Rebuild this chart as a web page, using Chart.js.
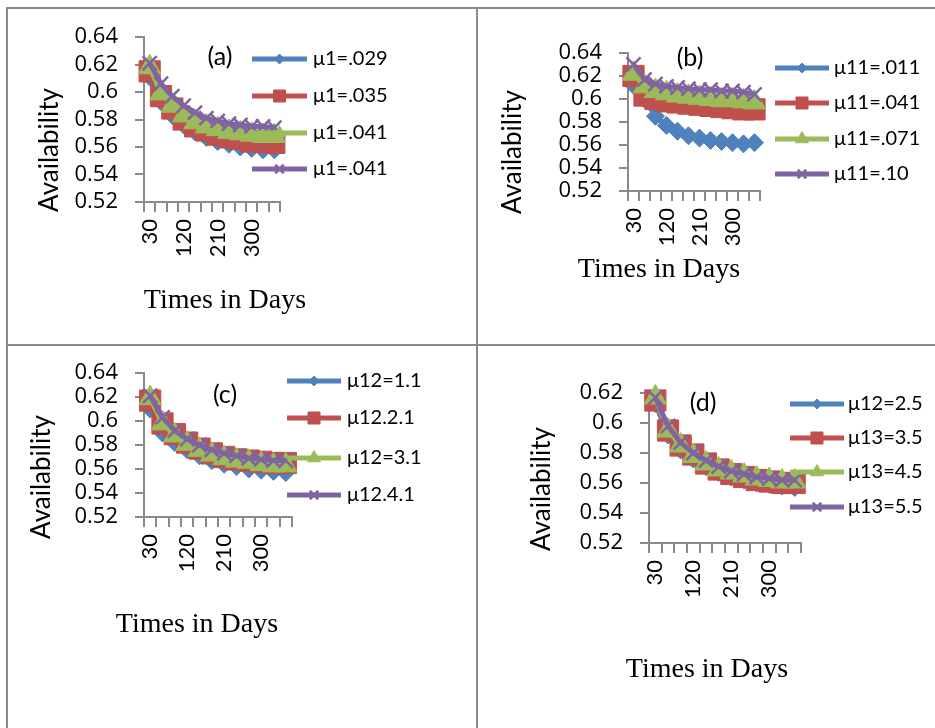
<!DOCTYPE html>
<html>
<head>
<meta charset="utf-8">
<script src="https://cdn.jsdelivr.net/npm/chart.js@4.4.1/dist/chart.umd.min.js"></script>
<style>
  html, body { margin: 0; padding: 0; background: #fff; }
  #page { position: relative; width: 935px; height: 728px; overflow: hidden; }
  canvas { position: absolute; }
  .rule { position: absolute; background: #8a8a8a; }
</style>
</head>
<body>
<div id="page">
  <canvas id="chart-a" width="477" height="345" style="left:0;top:0"></canvas>
  <canvas id="chart-b" width="458" height="345" style="left:477px;top:0"></canvas>
  <canvas id="chart-c" width="477" height="383" style="left:0;top:345px"></canvas>
  <canvas id="chart-d" width="458" height="383" style="left:477px;top:345px"></canvas>

  <div class="rule" style="left:6px;top:7px;width:929px;height:2px"></div>
  <div class="rule" style="left:6px;top:7px;width:2px;height:721px"></div>
  <div class="rule" style="left:476px;top:7px;width:2px;height:721px"></div>
  <div class="rule" style="left:6px;top:344px;width:929px;height:2px"></div>
</div>

<script>
// x categories (days) and the ones that get a label
const days = [30, 60, 90, 120, 150, 180, 210, 240, 270, 300, 330, 360];
const labelledDays = [30, 120, 210, 300];

// (a)
const aMu1_029 = [0.611, 0.593, 0.583, 0.576, 0.571, 0.567, 0.564, 0.562, 0.560, 0.559, 0.558, 0.558];
const aMu1_035 = [0.615, 0.597, 0.588, 0.580, 0.575, 0.572, 0.569, 0.567, 0.566, 0.564, 0.564, 0.563];
const aMu1_041 = [0.618, 0.599, 0.590, 0.583, 0.578, 0.575, 0.573, 0.571, 0.570, 0.569, 0.568, 0.568];
const aMu1_041b = [0.621, 0.606, 0.597, 0.590, 0.585, 0.581, 0.579, 0.577, 0.576, 0.575, 0.575, 0.574];
const legendA = ['\u03bc1=.029', '\u03bc1=.035', '\u03bc1=.041', '\u03bc1=.041'];

// (b)
const bMu11_011 = [0.612, 0.600, 0.585, 0.577, 0.572, 0.568, 0.566, 0.564, 0.563, 0.562, 0.561, 0.562];
const bMu11_041 = [0.620, 0.603, 0.600, 0.598, 0.597, 0.596, 0.595, 0.594, 0.593, 0.592, 0.591, 0.591];
const bMu11_071 = [0.622, 0.611, 0.607, 0.605, 0.603, 0.602, 0.601, 0.600, 0.599, 0.599, 0.598, 0.597];
const bMu11_10 = [0.630, 0.617, 0.613, 0.611, 0.610, 0.609, 0.608, 0.608, 0.607, 0.607, 0.606, 0.604];
const legendB = ['\u03bc11=.011', '\u03bc11=.041', '\u03bc11=.071', '\u03bc11=.10'];

// (c)
const cMu12_1_1 = [0.610, 0.590, 0.582, 0.576, 0.571, 0.567, 0.564, 0.562, 0.560, 0.559, 0.558, 0.557];
const cMu12_2_1 = [0.617, 0.598, 0.589, 0.582, 0.577, 0.573, 0.570, 0.568, 0.567, 0.566, 0.565, 0.565];
const cMu12_3_1 = [0.619, 0.598, 0.588, 0.581, 0.576, 0.572, 0.569, 0.567, 0.566, 0.564, 0.563, 0.563];
const cMu12_4_1 = [0.621, 0.603, 0.592, 0.585, 0.580, 0.576, 0.573, 0.571, 0.569, 0.568, 0.567, 0.567];
const legendC = ['\u03bc12=1.1', '\u03bc12.2.1', '\u03bc12=3.1', '\u03bc12.4.1'];

// (d)
const dMu12_2_5 = [0.613, 0.592, 0.582, 0.576, 0.571, 0.567, 0.564, 0.562, 0.560, 0.559, 0.558, 0.557];
const dMu13_3_5 = [0.615, 0.595, 0.585, 0.579, 0.573, 0.569, 0.566, 0.564, 0.562, 0.561, 0.560, 0.560];
const dMu13_4_5 = [0.617, 0.595, 0.585, 0.578, 0.573, 0.569, 0.567, 0.565, 0.563, 0.562, 0.561, 0.561];
const dMu13_5_5 = [0.617, 0.598, 0.587, 0.580, 0.575, 0.571, 0.568, 0.566, 0.564, 0.563, 0.562, 0.562];
const legendD = ['\u03bc12=2.5', '\u03bc13=3.5', '\u03bc13=4.5', '\u03bc13=5.5'];

Chart.defaults.font.family = 'Lato';
Chart.defaults.color = '#000';

const AXIS_GRAY = '#8a8a8a';

// excel 2007 palette + marker per series position
const seriesStyles = [
  { color: '#4f81bd', pointStyle: 'rectRot', radius: 9, legendRadius: 5, pointBorderWidth: 1 },
  { color: '#c0504d', pointStyle: 'rect', radius: 15, legendRadius: 8.5, pointBorderWidth: 1 },
  { color: '#9bbb59', pointStyle: 'triangle', radius: 13, legendRadius: 7.5, pointBorderWidth: 1 },
  { color: '#8064a2', pointStyle: 'crossRot', radius: 10, legendRadius: 6, pointBorderWidth: 2.5 }
];

// draws panel letter, axis titles and the legend (line + marker)
const panelDecor = {
  id: 'panelDecor',
  afterDraw(chart, args, opts) {
    const ctx = chart.ctx;
    ctx.save();
    ctx.fillStyle = '#000';
    ctx.textAlign = 'center';
    ctx.textBaseline = 'middle';

    ctx.font = '25px Lato';
    ctx.fillText(opts.letter, opts.letterPos[0], opts.letterPos[1]);

    ctx.save();
    ctx.translate(opts.yTitlePos[0], opts.yTitlePos[1]);
    ctx.rotate(-Math.PI / 2);
    ctx.font = '26px Lato';
    ctx.fillText('Availability', 0, 0);
    ctx.restore();

    ctx.font = '28px "Liberation Serif"';
    ctx.fillText('Times in Days', opts.xTitlePos[0], opts.xTitlePos[1]);

    const lg = opts.legend;
    chart.data.datasets.forEach((ds, i) => {
      const st = seriesStyles[i];
      const y = lg.y[i];
      ctx.strokeStyle = st.color;
      ctx.fillStyle = st.color;
      ctx.lineWidth = 5;
      ctx.beginPath();
      ctx.moveTo(lg.x1, y);
      ctx.lineTo(lg.x2, y);
      ctx.stroke();
      ctx.lineWidth = st.pointBorderWidth;
      Chart.helpers.drawPoint(ctx, {
        pointStyle: st.pointStyle,
        radius: st.legendRadius,
        rotation: 0,
        borderWidth: st.pointBorderWidth
      }, (lg.x1 + lg.x2) / 2, y);

      ctx.fillStyle = '#000';
      ctx.textAlign = 'left';
      ctx.font = '20px Lato';
      ctx.fillText(ds.label, lg.textX, y);
    });
    ctx.restore();
  }
};

function makePanel(id, series, labels, yMax, box, decor) {
  const datasets = series.map((values, i) => {
    const st = seriesStyles[i];
    return {
      label: labels[i],
      data: values,
      borderColor: st.color,
      backgroundColor: st.color,
      borderWidth: 5,
      tension: 0,
      pointStyle: st.pointStyle,
      pointRadius: st.radius,
      pointBorderWidth: st.pointBorderWidth,
      pointBackgroundColor: st.color,
      pointBorderColor: st.color,
      order: series.length - 1 - i,
      clip: false
    };
  });

  return new Chart(document.getElementById(id), {
    type: 'line',
    data: { labels: days, datasets: datasets },
    options: {
      responsive: false,
      animation: false,
      layout: {
        padding: { left: 0, top: box.top, right: box.right, bottom: 0 }
      },
      plugins: {
        legend: { display: false },
        tooltip: { enabled: false },
        panelDecor: decor
      },
      scales: {
        x: {
          type: 'category',
          offset: true,
          afterFit: (scale) => { scale.height = box.xHeight; },
          grid: {
            offset: true,
            drawOnChartArea: false,
            drawTicks: true,
            tickLength: 10,
            color: AXIS_GRAY,
            lineWidth: 2
          },
          border: { display: true, color: AXIS_GRAY, width: 2 },
          ticks: {
            autoSkip: false,
            minRotation: 90,
            maxRotation: 90,
            padding: 7,
            color: '#000',
            font: { size: 22 },
            callback: function (val) {
              const d = this.getLabelForValue(val);
              return labelledDays.includes(d) ? String(d) : '';
            }
          }
        },
        y: {
          min: 0.52,
          max: yMax,
          afterFit: (scale) => { scale.width = box.yWidth; },
          grid: {
            drawOnChartArea: false,
            drawTicks: true,
            tickLength: 9,
            color: AXIS_GRAY,
            lineWidth: 2
          },
          border: { display: true, color: AXIS_GRAY, width: 2 },
          ticks: {
            stepSize: 0.02,
            autoSkip: false,
            padding: 17,
            color: '#000',
            font: { family: '"Open Sans"', size: 22, lineHeight: 1 },
            callback: (v) => String(Math.round(v * 100) / 100)
          }
        }
      }
    },
    plugins: [panelDecor]
  });
}

makePanel('chart-a', [aMu1_029, aMu1_035, aMu1_041, aMu1_041b], legendA, 0.64,
  { top: 37, right: 197, xHeight: 143, yWidth: 144 },
  { letter: '(a)', letterPos: [220, 57], yTitlePos: [50, 150], xTitlePos: [225, 301],
    legend: { x1: 252, x2: 307, textX: 313, y: [59, 96, 133, 169] } });

makePanel('chart-b', [bMu11_011, bMu11_041, bMu11_071, bMu11_10], legendB, 0.64,
  { top: 53, right: 175, xHeight: 154, yWidth: 151 },
  { letter: '(b)', letterPos: [213, 58], yTitlePos: [36, 152], xTitlePos: [182, 270],
    legend: { x1: 298, x2: 352, textX: 357, y: [68, 103, 139, 174] } });

makePanel('chart-c', [cMu12_1_1, cMu12_2_1, cMu12_3_1, cMu12_4_1], legendC, 0.64,
  { top: 18, right: 185, xHeight: 211, yWidth: 144 },
  { letter: '(c)', letterPos: [225, 50], yTitlePos: [42, 132], xTitlePos: [197, 280],
    legend: { x1: 287, x2: 341, textX: 347, y: [36, 73, 113, 150] } });

makePanel('chart-d', [dMu12_2_5, dMu13_3_5, dMu13_4_5, dMu13_5_5], legendD, 0.62,
  { top: 48, right: 134, xHeight: 185, yWidth: 172 },
  { letter: '(d)', letterPos: [226, 58], yTitlePos: [65, 144], xTitlePos: [230, 325],
    legend: { x1: 313, x2: 367, textX: 371, y: [59, 93, 127, 162] } });
</script>
</body>
</html>
